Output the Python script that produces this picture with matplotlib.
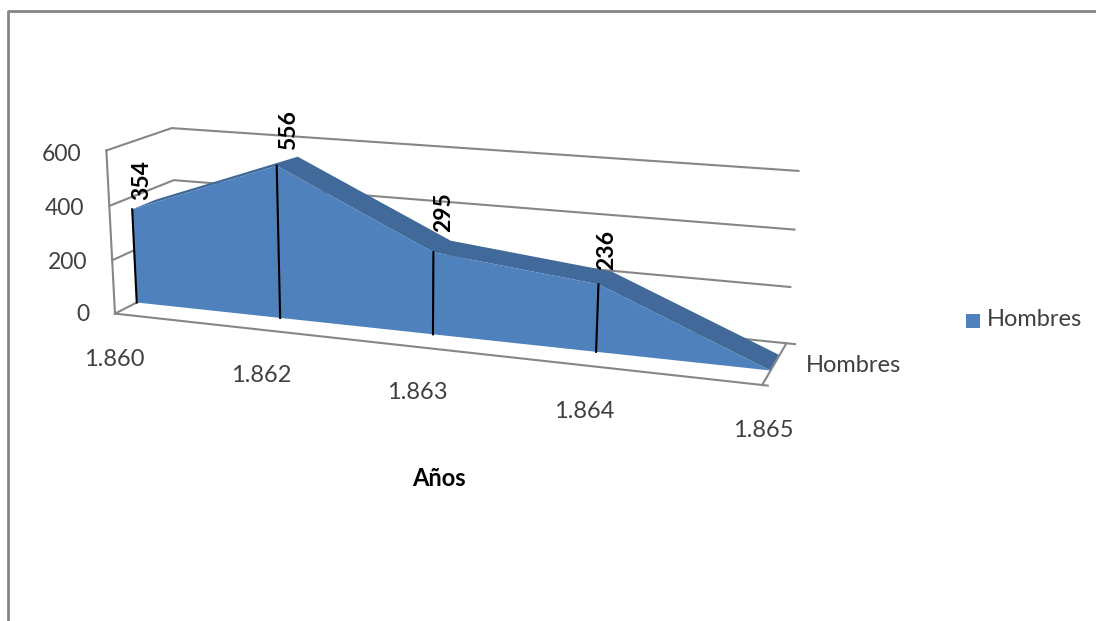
import numpy as np
import matplotlib
matplotlib.use("Agg")
import matplotlib.pyplot as plt
from matplotlib.patches import Polygon, Rectangle

years = ["1.860", "1.862", "1.863", "1.864", "1.865"]
hombres = [354, 556, 295, 236, 0]
value_ticks = [0, 200, 400, 600]
series_name = "Hombres"
axis_title = "Años"

# camera for the 3D box: (category, value, depth, 1) -> homogeneous pixel position
CAMERA = np.array([
    [137.90288, -0.019496, 75.27378, 114.99097],
    [5.77224, -0.279226, -12.89233, 313.62364],
    [-0.031351, -4.8251e-05, 0.068745, 1.0],
])
FRONT, BACK = 0.33, 0.70   # depth band taken by the series

GRID = "#868686"
TEXT = "#404040"
AREA = "#4f81bd"
AREA_TOP = "#41699a"


def project(cat, val, depth):
    q = CAMERA @ np.array([cat, val, depth, 1.0])
    return q[0] / q[2], q[1] / q[2]


def box_line(ax, *points, z=1):
    xy = np.array([project(*p) for p in points])
    ax.plot(xy[:, 0], xy[:, 1], color=GRID, lw=1.5, solid_capstyle="projecting", zorder=z)


plt.rcParams["font.family"] = ["Lato", "DejaVu Sans"]

fig = plt.figure(figsize=(10.96, 6.21), dpi=100)
ax = fig.add_axes([0, 0, 1, 1])
ax.set_xlim(0, 1096)
ax.set_ylim(621, 0)
ax.axis("off")

# chart frame, only top and left are in view
ax.plot([8, 8, 1096], [621, 11, 11], color=GRID, lw=2.0, zorder=1)

# walls and floor
last = len(years) - 1
for v in value_ticks:
    end = last + 0.05 if v == 0 else last
    box_line(ax, (0, v, 0), (0, v, 1), (end, v, 1))
box_line(ax, (0, 0, 0), (0, value_ticks[-1], 0))
box_line(ax, (0, 0, 0), (last, 0, 0), (last + 0.03, 0, 0))
box_line(ax, (last, 0, 0), (last, 0, 1), z=4)

# top strip of the area, then its front face
cats = range(len(years))
front_top = [project(c, v, FRONT) for c, v in zip(cats, hombres)]
back_top = [project(c, v, BACK) for c, v in zip(cats, hombres)]
front_base = [project(c, 0, FRONT) for c in cats]
ax.add_patch(Polygon(front_top + back_top[::-1], closed=True, fc=AREA_TOP, ec="none", zorder=2))
ax.add_patch(Polygon(front_top + front_base[::-1], closed=True, fc=AREA, ec="none", zorder=3))

# drop lines and rotated value labels
label_shift = [(10, -9), (12, -16), (10, -20), (8, -14)]
for c, v in enumerate(hombres[:-1]):
    x0, y0 = front_top[c]
    x1, y1 = front_base[c]
    ax.plot([x0, x1], [y0, y1], color="black", lw=1.5, zorder=4)
    dx, dy = label_shift[c]
    ax.text(x0 + dx, y0 + dy, str(v), rotation=90, ha="center", va="bottom",
            fontsize=16.5, fontweight="bold", color="black", zorder=5)

# value axis labels follow the left wall
for v in value_ticks:
    x, y = project(0, v, 0)
    ax.text(x - 25, y + 1 + v * 0.005, str(v), ha="right", va="center", fontsize=16.5, color=TEXT)

# category labels step down along the floor edge
for c, name in enumerate(years):
    x, y = project(c, 0, 0)
    ax.text(x + 0.5 * c - 0.5, y + 46, name, ha="center", va="center", fontsize=17, color=TEXT)

ax.text(854, 365, series_name, ha="center", va="center", fontsize=17, color=TEXT)
ax.text(439, 479, axis_title, ha="center", va="center", fontsize=17, fontweight="bold", color="black")

# legend
ax.add_patch(Rectangle((966, 313.5), 14, 14, fc=AREA, ec="none"))
ax.text(987, 320, series_name, ha="left", va="center", fontsize=17, color=TEXT)

fig.savefig("out.png", dpi=100)
